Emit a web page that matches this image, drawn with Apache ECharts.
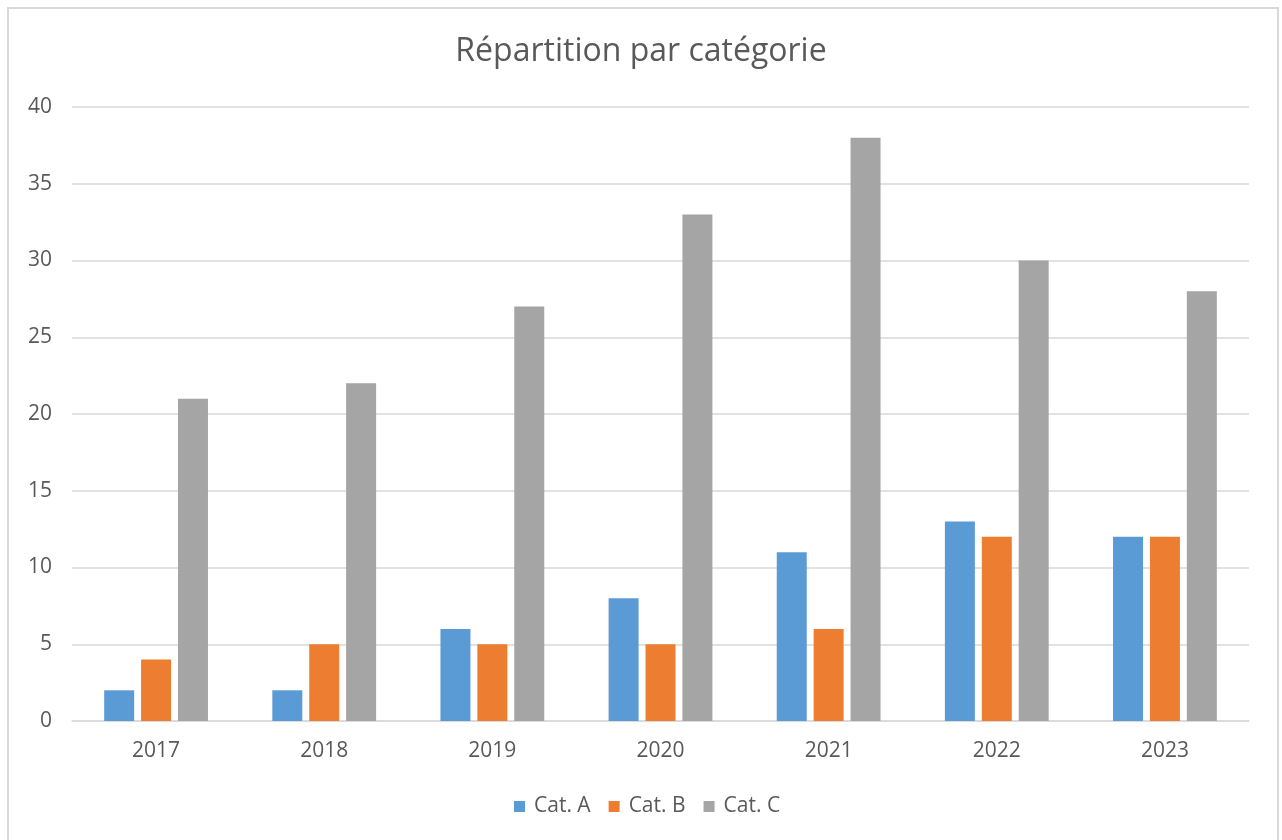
<!DOCTYPE html>
<html>
<head>
<meta charset="utf-8">
<title>Répartition par catégorie</title>
<script src="https://cdn.jsdelivr.net/npm/echarts@6/dist/echarts.min.js"></script>
<style>
    html, body { margin: 0; padding: 0; background: #fff; }
    #chart { width: 1282px; height: 840px; }
</style>
</head>
<body>
<div id="chart"></div>
<script>
// données du graphique
var years = ['2017', '2018', '2019', '2020', '2021', '2022', '2023'];
var catA = [2, 2, 6, 8, 11, 13, 12];
var catB = [4, 5, 5, 5, 6, 12, 12];
var catC = [21, 22, 27, 33, 38, 30, 28];
var seriesNames = ['Cat. A', 'Cat. B', 'Cat. C'];
var seriesColors = ['#5B9BD5', '#ED7D31', '#A5A5A5'];

(function() {
    var fontFamily = '"Open Sans", "Noto Sans", sans-serif';
    var textColor = '#595959';
    var chart = echarts.init(document.getElementById('chart'));

    function barSeries(idx, data) {
        return {
            name: seriesNames[idx],
            type: 'bar',
            data: data,
            barWidth: 30,
            barGap: '23%',
            itemStyle: { color: seriesColors[idx] },
            emphasis: { disabled: true }
        };
    }

    var option = {
        animation: false,
        backgroundColor: '#fff',
        graphic: [
            {
                type: 'rect',
                shape: { x: 8, y: 8, width: 1270, height: 900 },
                style: { fill: 'none', stroke: '#D9D9D9', lineWidth: 2 },
                silent: true
            }
        ],
        title: {
            text: 'Répartition par catégorie',
            left: 'center',
            top: 31,
            textStyle: {
                fontFamily: fontFamily,
                fontSize: 32,
                fontWeight: 'normal',
                color: textColor
            }
        },
        legend: {
            data: seriesNames,
            top: 791,
            left: 509,
            itemWidth: 11,
            itemHeight: 11,
            itemGap: 18,
            icon: 'rect',
            textStyle: {
                fontFamily: fontFamily,
                fontSize: 21,
                color: textColor,
                padding: [0, 0, 0, 4]
            }
        },
        grid: {
            left: 72,
            right: 33,
            top: 107,
            bottom: 119
        },
        xAxis: {
            type: 'category',
            data: years,
            axisLine: { lineStyle: { color: '#D9D9D9', width: 1.5 } },
            axisTick: { show: false },
            axisLabel: {
                fontFamily: fontFamily,
                fontSize: 21,
                color: textColor,
                margin: 20
            }
        },
        yAxis: {
            type: 'value',
            min: 0,
            max: 40,
            interval: 5,
            axisLine: { show: false },
            axisTick: { show: false },
            splitLine: { lineStyle: { color: '#D9D9D9', width: 1.5 } },
            axisLabel: {
                fontFamily: fontFamily,
                fontSize: 21,
                color: textColor,
                margin: 20
            }
        },
        series: [
            barSeries(0, catA),
            barSeries(1, catB),
            barSeries(2, catC)
        ]
    };

    chart.setOption(option);
})();
</script>
</body>
</html>
